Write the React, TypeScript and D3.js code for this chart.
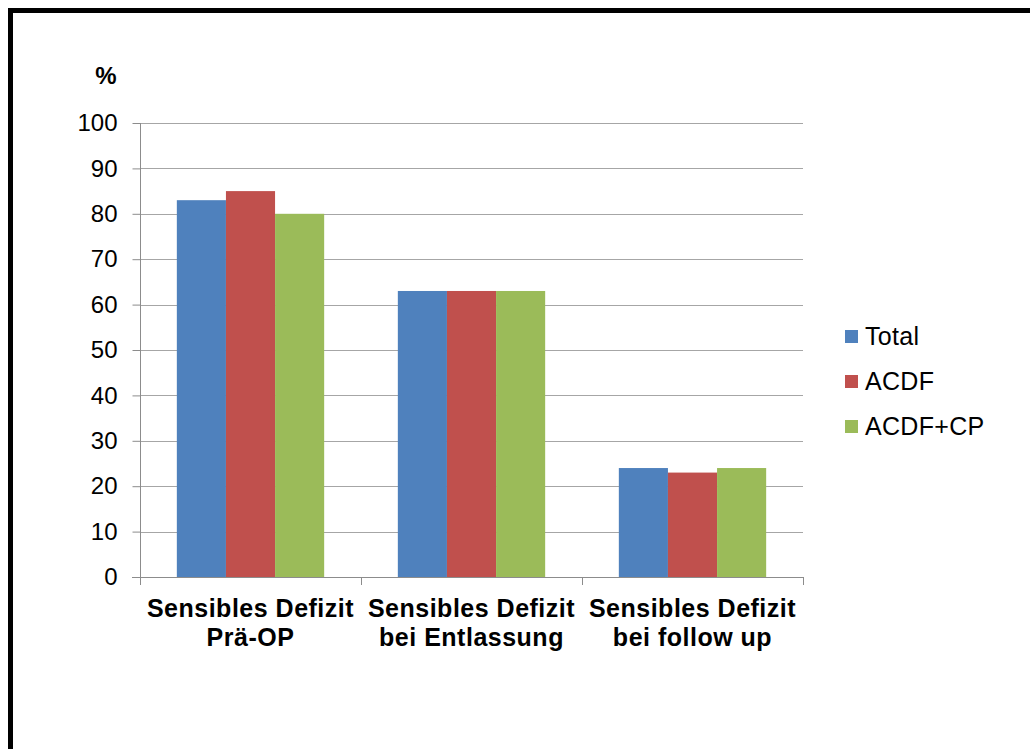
import { useEffect, useRef } from "react";
import { axisLeft, scaleBand, scaleLinear, select } from "d3";

const categories = [
  ["Sensibles Defizit", "Prä-OP"],
  ["Sensibles Defizit", "bei Entlassung"],
  ["Sensibles Defizit", "bei follow up"],
];
const seriesNames = ["Total", "ACDF", "ACDF+CP"];
const seriesColors = ["#4f81bd", "#c0504d", "#9bbb59"];
const totalValues = [83, 63, 24];
const acdfValues = [85, 63, 23];
const acdfCpValues = [80, 63, 24];
const yTicks = [0, 10, 20, 30, 40, 50, 60, 70, 80, 90, 100];

const W = 1030;
const H = 749;
const FONT = "'Liberation Sans', Arial, sans-serif";

export default function App() {
  const svgRef = useRef<SVGSVGElement | null>(null);

  useEffect(() => {
    const svg = select(svgRef.current);
    svg.selectAll("*").remove();

    const left = 140;
    const right = 803;
    const top = 123;
    const bottom = 577;

    // outer frame (only top and left edges fall in the picture)
    svg
      .append("rect")
      .attr("x", 10.5)
      .attr("y", 10.5)
      .attr("width", W + 20)
      .attr("height", H + 20)
      .attr("fill", "white")
      .attr("stroke", "black")
      .attr("stroke-width", 5);

    const y = scaleLinear().domain([0, 100]).range([bottom, top]);
    const x0 = scaleBand<number>()
      .domain(categories.map((_, i) => i))
      .range([left, right]);
    const x1 = scaleBand<number>()
      .domain(seriesNames.map((_, i) => i))
      .range([0, x0.bandwidth()])
      .paddingOuter(0.75)
      .paddingInner(0);

    // gridlines
    svg
      .append("g")
      .selectAll("line")
      .data(yTicks.filter((t) => t > 0))
      .join("line")
      .attr("x1", left)
      .attr("x2", right)
      .attr("y1", (d) => Math.round(y(d)) + 0.5)
      .attr("y2", (d) => Math.round(y(d)) + 0.5)
      .attr("stroke", "#a6a6a6")
      .attr("stroke-width", 1);

    const seriesValues = [totalValues, acdfValues, acdfCpValues];
    const g = svg.append("g");
    categories.forEach((_, ci) => {
      seriesValues.forEach((vals, si) => {
        g.append("rect")
          .attr("x", (x0(ci) ?? 0) + (x1(si) ?? 0))
          .attr("y", y(vals[ci]))
          .attr("width", x1.bandwidth())
          .attr("height", y(0) - y(vals[ci]))
          .attr("fill", seriesColors[si]);
      });
    });

    // y axis
    const yAxis = svg
      .append("g")
      .attr("transform", `translate(${left + 0.5},0)`)
      .call(
        axisLeft(y)
          .tickValues(yTicks)
          .tickSize(8)
          .tickPadding(15)
          .tickSizeOuter(0)
      );
    yAxis.selectAll("path, line").attr("stroke", "#8c8c8c");
    yAxis.select("path").attr("d", `M0,${top}V${bottom}`);
    yAxis
      .selectAll("text")
      .attr("font-family", FONT)
      .attr("font-size", 24)
      .attr("fill", "#000");

    // x axis baseline and ticks
    svg
      .append("line")
      .attr("x1", left - 8)
      .attr("x2", right)
      .attr("y1", bottom + 0.5)
      .attr("y2", bottom + 0.5)
      .attr("stroke", "#8c8c8c");
    svg
      .append("g")
      .selectAll("line")
      .data([...categories.map((_, i) => x0(i) ?? 0), right])
      .join("line")
      .attr("x1", (d) => Math.round(d) + 0.5)
      .attr("x2", (d) => Math.round(d) + 0.5)
      .attr("y1", bottom)
      .attr("y2", bottom + 8)
      .attr("stroke", "#8c8c8c");

    // category labels
    const labels = svg.append("g");
    categories.forEach((lines, ci) => {
      const cx = (x0(ci) ?? 0) + x0.bandwidth() / 2;
      lines.forEach((line, li) => {
        labels
          .append("text")
          .attr("x", cx)
          .attr("y", 617 + li * 29)
          .attr("text-anchor", "middle")
          .attr("font-family", FONT)
          .attr("font-weight", "bold")
          .attr("font-size", 25)
          .attr("letter-spacing", 0.5)
          .text(line);
      });
    });

    // unit label
    svg
      .append("text")
      .attr("x", 106)
      .attr("y", 84)
      .attr("text-anchor", "middle")
      .attr("font-family", FONT)
      .attr("font-weight", "bold")
      .attr("font-size", 24)
      .text("%");

    // legend
    const legend = svg.append("g");
    seriesNames.forEach((name, i) => {
      const ly = 336.5 + i * 45;
      legend
        .append("rect")
        .attr("x", 845)
        .attr("y", ly - 6.5)
        .attr("width", 13)
        .attr("height", 13)
        .attr("fill", seriesColors[i]);
      legend
        .append("text")
        .attr("x", 865)
        .attr("y", ly + 8.5)
        .attr("font-family", FONT)
        .attr("font-size", 25)
        .attr("letter-spacing", 0.3)
        .text(name);
    });
  }, []);

  return (
    <svg
      ref={svgRef}
      width={W}
      height={H}
      style={{ position: "absolute", left: 0, top: 0, display: "block", background: "white" }}
    />
  );
}
